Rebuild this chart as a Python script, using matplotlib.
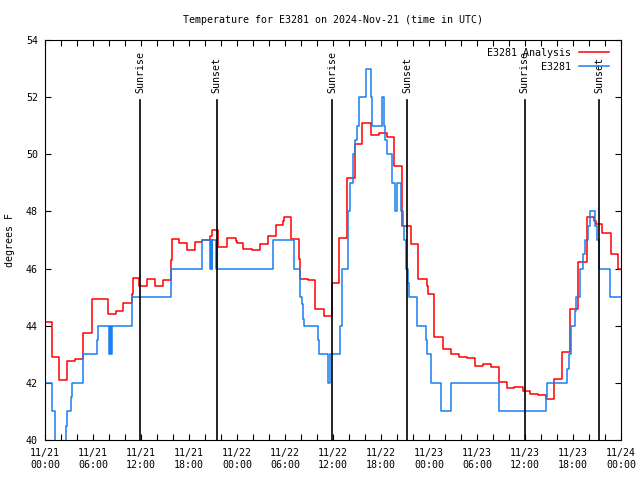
#!/usr/bin/env python3
"""Temperature trace for station E3281 with sunrise / sunset markers."""

import numpy as np
import matplotlib
matplotlib.use('Agg')
import matplotlib.pyplot as plt
import matplotlib.dates as mdates

# Start of the time window (UTC)
t0 = np.datetime64('2024-11-21T00:00')

# Observed station values (hours after t0, deg F) - step data
obs_hours = [0.0, 0.84, 1.25, 2.62, 2.79, 3.21, 3.34, 4.79, 6.46, 6.59,
             8.04, 8.16, 8.29, 8.44, 10.91, 15.71, 19.66, 20.62, 20.71, 20.81,
             20.9, 21.37, 21.46, 21.54, 28.54, 31.16, 31.87, 32.09, 32.29, 32.41,
             34.16, 34.25, 35.44, 35.56, 36.87, 37.09, 37.81, 37.91, 38.12, 38.46,
             38.75, 38.96, 39.29, 40.12, 40.71, 40.91, 42.19, 42.37, 42.5, 42.79,
             43.34, 43.75, 43.96, 44.46, 44.75, 44.91, 45.09, 45.41, 45.54, 46.54,
             47.59, 47.71, 48.21, 48.29, 49.46, 49.54, 50.79, 56.79, 62.66, 62.75,
             65.29, 65.46, 65.75, 66.25, 66.37, 66.87, 67.29, 67.5, 67.91, 68.12,
             68.75, 68.96, 69.29, 70.62, 72.0]
obs_temp = [42, 41, 39.5, 40.5, 41, 41.5, 42, 43, 43.5, 44,
            43, 44, 43, 44, 45, 46, 47, 46, 47, 46,
            47, 46, 47, 46, 47, 46, 45, 44.75, 44.25, 44,
            43.5, 43, 42, 43, 44, 46, 47, 48, 49, 50,
            50.5, 51, 52, 53, 52, 51, 52, 51, 50.5, 50,
            49, 48, 49, 48, 47.5, 47, 46, 45.5, 45, 44,
            43.5, 43, 42.5, 42, 41.5, 41, 42, 41, 41.5, 42,
            42.5, 43, 44, 44.5, 45, 46, 46.5, 47, 47.5, 48,
            47.5, 47, 46, 45, 45]

# Analysis values (hours after t0, deg F)
ana_hours = [0.0, 0.84, 1.79, 2.71, 3.79, 4.79, 5.84, 7.84, 8.87, 9.79,
             10.84, 10.96, 11.79, 12.71, 13.75, 14.75, 15.71, 15.84, 16.79, 17.75,
             18.75, 19.69, 20.62, 20.84, 21.69, 22.75, 23.87, 24.0, 24.79, 25.84,
             26.87, 27.84, 28.87, 29.79, 29.91, 30.71, 31.75, 31.87, 32.84, 33.75,
             34.87, 35.84, 36.79, 37.79, 38.75, 39.66, 40.71, 41.79, 42.79, 43.66,
             44.66, 45.71, 46.66, 47.71, 47.91, 48.66, 49.71, 50.71, 51.75, 52.79,
             53.75, 54.71, 55.75, 56.75, 57.71, 58.66, 59.71, 60.62, 61.66, 62.62,
             63.66, 64.66, 65.62, 66.66, 67.71, 68.66, 68.87, 69.66, 70.71, 71.66,
             72.0]
ana_temp = [44.12, 42.9, 42.1, 42.75, 42.85, 43.73, 44.92, 44.4, 44.5, 44.78,
            45.1, 45.66, 45.39, 45.62, 45.39, 45.6, 46.3, 47.02, 46.9, 46.65,
            46.93, 47.0, 47.15, 47.35, 46.74, 47.06, 46.95, 46.88, 46.67, 46.65,
            46.86, 47.14, 47.53, 47.68, 47.82, 47.02, 46.32, 45.62, 45.59, 44.57,
            44.34, 45.48, 47.08, 49.16, 50.36, 51.08, 50.68, 50.75, 50.62, 49.6,
            47.5, 46.86, 45.62, 45.4, 45.1, 43.62, 43.2, 43.01, 42.9, 42.86,
            42.59, 42.66, 42.57, 42.04, 41.81, 41.87, 41.72, 41.61, 41.58, 41.42,
            42.12, 43.09, 44.57, 46.24, 47.79, 47.68, 47.55, 47.23, 46.51, 46.0,
            46.0]

# Sunrise / sunset (hours after t0)
sun_hours = [11.88, 21.46, 35.91, 45.29, 59.96, 69.29]
sun_labels = ['Sunrise', 'Sunset', 'Sunrise', 'Sunset', 'Sunrise', 'Sunset']


def to_time(hours):
    return t0 + (np.array(hours) * 60).round().astype('timedelta64[m]')


plt.rcParams['font.family'] = ['DejaVu Sans Mono']
plt.rcParams['font.size'] = 7.2

fig = plt.figure(figsize=(6.4, 4.8), dpi=100)
ax = fig.add_axes([45 / 640, 40 / 480, 576 / 640, 400 / 480])

ax.step(to_time(ana_hours), ana_temp, where='post', color='#ff0000',
        linewidth=1.1, label='E3281 Analysis')
ax.step(to_time(obs_hours), obs_temp, where='post', color='#1a80f0',
        linewidth=1.1, label='E3281')

for h, lab in zip(sun_hours, sun_labels):
    t = to_time([h])[0]
    ax.plot([t, t], [40, 51.9], color='black', linewidth=1.2, zorder=5)
    ax.text(t, 52.15, lab, rotation=90, ha='center', va='bottom')

ax.set_xlim(to_time([0])[0], to_time([72])[0])
ax.set_ylim(40, 54)
ax.set_yticks(np.arange(40, 55, 2))

ax.xaxis.set_major_locator(mdates.HourLocator(byhour=[0, 6, 12, 18]))
ax.xaxis.set_major_formatter(mdates.DateFormatter('%m/%d\n%H:%M'))
ax.xaxis.set_minor_locator(mdates.HourLocator(byhour=range(0, 24, 2)))

ax.tick_params(which='both', direction='in', top=True, right=True,
               length=4.5, width=0.8)
ax.tick_params(axis='x', pad=6)
ax.tick_params(axis='y', pad=5)
for sp in ax.spines.values():
    sp.set_linewidth(0.8)

ax.set_title('Temperature for E3281 on 2024-Nov-21 (time in UTC)', pad=12,
             fontsize=7.2)
ax.set_ylabel('degrees F', labelpad=8)

ax.legend(loc='upper right', bbox_to_anchor=(0.99, 0.995), frameon=False,
          markerfirst=False, handlelength=3.0, borderaxespad=0.2,
          labelspacing=0.4, handletextpad=0.8)

plt.savefig('out.png', dpi=100)
